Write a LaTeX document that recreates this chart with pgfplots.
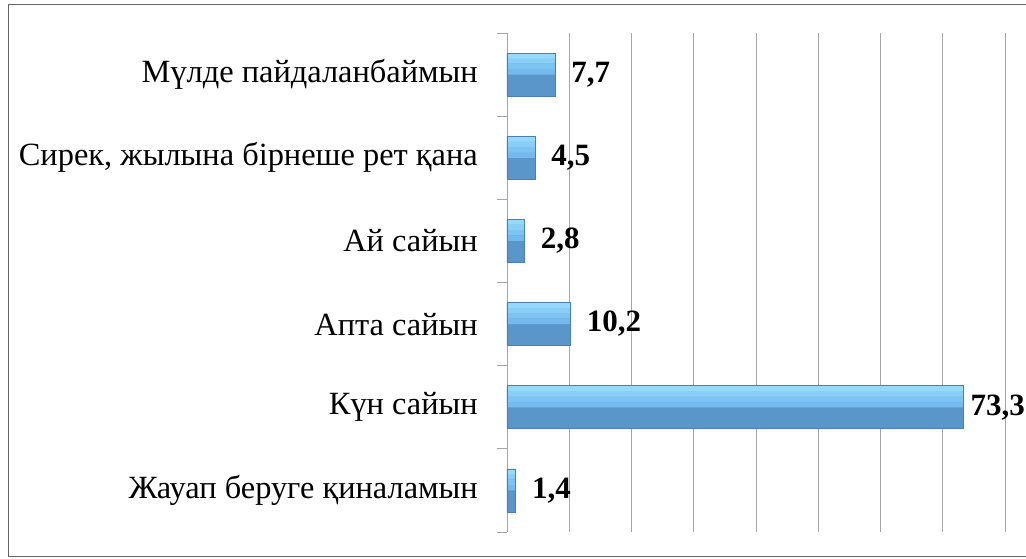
\documentclass[border=0pt]{standalone}
\usepackage{pgfplots}
\pgfplotsset{compat=1.18}
\usepackage{fontspec}
\setmainfont{Liberation Serif}
\definecolor{bardark}{HTML}{5B96CA}
\definecolor{barA}{HTML}{74BAEE}
\definecolor{barB}{HTML}{7EC4F2}
\definecolor{barC}{HTML}{89CEF6}
\definecolor{barD}{HTML}{96D9FA}
\definecolor{baredge}{HTML}{4A7EB4}
\definecolor{gridc}{HTML}{A6A6A6}
\pgfplotstableread{
val pos
1.4 0.5
73.3 1.5
10.2 2.5
2.8 3.5
4.5 4.5
7.7 5.5
}\datatab
\pgfplotstableread{
val pos
1.4 0.5
10.2 2.5
2.8 3.5
4.5 4.5
7.7 5.5
}\smalltab
\pgfplotstableread{
val pos
73.3 1.5
}\bigtab
\begin{document}
\begin{tikzpicture}
\begin{axis}[
  scale only axis, width=498pt, height=499pt,
  xmin=0, xmax=80, ymin=0, ymax=6,
  xbar,
  axis lines*=left,
  x axis line style={draw=none},
  y axis line style={draw=gridc, line width=0.8pt},
  xtick={0,10,...,80}, xticklabels={},
  xtick style={draw=none},
  xmajorgrids, grid style={draw=gridc, line width=0.8pt},
  ytick={0.5,1.5,...,5.5},
  yticklabels={Жауап беруге қиналамын, Күн сайын, Апта сайын, Ай сайын, {Сирек, жылына бірнеше рет қана}, Мүлде пайдаланбаймын},
  ytick style={draw=none},
  major tick length=0pt,
  minor ytick={0,1,...,6},
  minor tick length=10pt, tick align=outside,
  minor y tick style={draw=gridc, line width=0.8pt},
  yticklabel style={font=\fontsize{32.4}{32.4}\selectfont, inner sep=0pt, anchor=east, xshift=-29pt},
  /pgf/number format/.cd, use comma, fixed, fixed zerofill, precision=1, assume math mode=true,
  /pgfplots/.cd,
  every node near coord/.append style={font=\fontsize{31}{31}\selectfont\bfseries, anchor=west, inner sep=0pt, text=black},
  clip=false,
]
\addplot[fill=bardark, draw=none, bar width=43pt, bar shift=0pt] table[x=val,y=pos] {\datatab};
\addplot[fill=barA, draw=none, bar width=5.6pt, bar shift=2.75pt] table[x=val,y=pos] {\datatab};
\addplot[fill=barB, draw=none, bar width=5.6pt, bar shift=8.25pt] table[x=val,y=pos] {\datatab};
\addplot[fill=barC, draw=none, bar width=5.6pt, bar shift=13.75pt] table[x=val,y=pos] {\datatab};
\addplot[fill=barD, draw=none, bar width=5.2pt, bar shift=18.9pt] table[x=val,y=pos] {\datatab};
\addplot[fill=none, draw=baredge, line width=0.7pt, bar width=43pt, bar shift=0pt,
  nodes near coords, every node near coord/.append style={xshift=16pt}] table[x=val,y=pos] {\smalltab};
\addplot[fill=none, draw=baredge, line width=0.7pt, bar width=43pt, bar shift=0pt,
  nodes near coords, every node near coord/.append style={xshift=7pt}] table[x=val,y=pos] {\bigtab};
\coordinate (O) at (axis cs:0,0);
\end{axis}
\begin{scope}[shift={(O)}, x=1pt, y=1pt]
\draw[color=gray!80!black, line width=0.8pt] (-499,-24) rectangle (540,528);
\pgfresetboundingbox
\useasboundingbox (-507,-26) rectangle (519,532);
\end{scope}
\end{tikzpicture}
\end{document}
